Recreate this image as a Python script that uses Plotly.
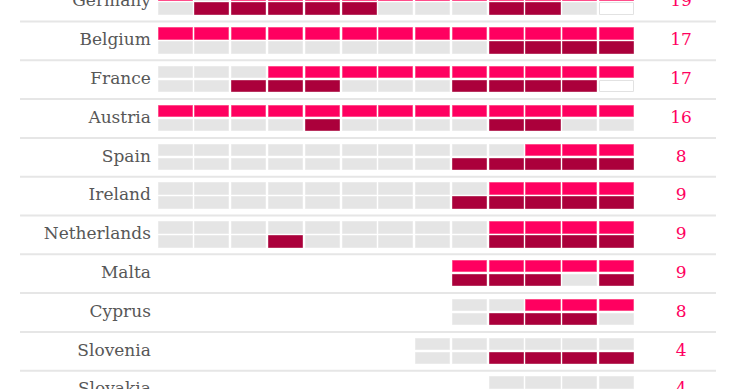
import plotly.graph_objects as go

# ---- data ----
countries = ["Germany", "Belgium", "France", "Austria", "Spain", "Ireland",
             "Netherlands", "Malta", "Cyprus", "Slovenia", "Slovakia"]
totals = [19, 17, 17, 16, 8, 9, 9, 9, 8, 4, 4]
# one character per column (13 columns): P = pink, D = dark, G = grey, W = empty, . = none
top_cells = ["PGPPPPPPPPPPP", "PPPPPPPPPPPPP", "GGGPPPPPPPPPP", "PPPPPPPPPPPPP",
             "GGGGGGGGGGPPP", "GGGGGGGGGPPPP", "GGGGGGGGGPPPP", "........PPPPP",
             "........GGPPP", ".......GGGGGG", ".........GGGG"]
bottom_cells = ["GDDDDDGGGDDGW", "GGGGGGGGGDDDD", "GGDDDGGGDDDDW", "GGGGDGGGGDDGG",
                "GGGGGGGGDDDDD", "GGGGGGGGDDDDD", "GGGDGGGGGDDDD", "........DDDGD",
                "........GDDDG", ".......GGDDDD", ".........DDDD"]

# ---- styling ----
FILL = {"P": "#ff0060", "D": "#ab003b", "G": "#e5e5e5", "W": "#ffffff"}
EDGE = {"P": "#ff4d8a", "D": "#b8325f", "G": "#ebebeb", "W": "#e2e2e2"}
PINK = "#ff0060"
LABEL = "#575757"
FONT = "DejaVu Serif"

X_RANGE = [-4.777, 15.343]
Y_RANGE = [-9.972, 0.054]
BAR_W = 0.925
BAR_H = 0.29
GAP = 0.035

fig = go.Figure()

# separators between rows
sx, sy = [], []
for i in range(len(countries) - 1):
    sx += [-4.233, 14.69, None]
    sy += [-i - 0.5, -i - 0.5, None]
fig.add_trace(go.Scatter(x=sx, y=sy, mode="lines",
                         line=dict(color="#e6e6e6", width=2), hoverinfo="skip"))

for half, cells in (("top", top_cells), ("bottom", bottom_cells)):
    xs, bases, hs, cols, edges = [], [], [], [], []
    for i, row in enumerate(cells):
        for j, c in enumerate(row):
            if c == ".":
                continue
            xs.append(j)
            bases.append(-i + GAP if half == "top" else -i - GAP - BAR_H)
            hs.append(BAR_H)
            cols.append(FILL[c])
            edges.append(EDGE[c])
    fig.add_trace(go.Bar(x=xs, y=hs, base=bases, width=BAR_W,
                         marker=dict(color=cols, line=dict(color=edges, width=1)),
                         hoverinfo="skip"))

rows_y = [-i for i in range(len(countries))]
fig.add_trace(go.Scatter(x=[-0.675] * len(countries), y=rows_y, mode="text",
                         text=countries, textposition="middle left",
                         textfont=dict(family=FONT, size=17, color=LABEL),
                         hoverinfo="skip"))
fig.add_trace(go.Scatter(x=[13.74] * len(countries), y=rows_y, mode="text",
                         text=[str(t) for t in totals], textposition="middle center",
                         textfont=dict(family=FONT, size=17, color=PINK),
                         hoverinfo="skip"))

fig.update_layout(
    width=740, height=389, margin=dict(l=0, r=0, t=0, b=0),
    paper_bgcolor="white", plot_bgcolor="white",
    showlegend=False, barmode="overlay", bargap=0,
    xaxis=dict(range=X_RANGE, visible=False, fixedrange=True),
    yaxis=dict(range=Y_RANGE, visible=False, fixedrange=True),
)

fig.write_html("out.html", config={"displayModeBar": False},
               post_script="document.body.style.margin='0';document.body.style.overflow='hidden';")
